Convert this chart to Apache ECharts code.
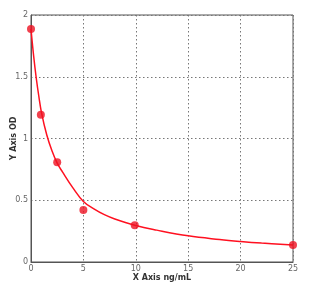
<!DOCTYPE html>
<html><head><meta charset="utf-8">
<script src="https://cdn.jsdelivr.net/npm/echarts@6/dist/echarts.min.js"></script>
<style>html,body{margin:0;padding:0;background:#fff}#c{width:324px;height:302px}</style>
</head><body><div id="c"></div>
<script>
var pointX = [0, 0.94, 2.5, 5, 9.9, 25];
var pointY = [1.887, 1.193, 0.807, 0.421, 0.297, 0.138];
var curveX = [0, 0.25, 0.5, 0.75, 1, 1.5, 2, 2.5, 3, 4, 5, 6, 7, 8, 10, 12, 15, 18, 20, 22, 25];
var curveY = [1.887, 1.67, 1.49, 1.34, 1.21, 1.03, 0.90, 0.80, 0.73, 0.60, 0.49, 0.43, 0.383, 0.348, 0.295, 0.258, 0.212, 0.182, 0.166, 0.153, 0.138];
var xTicks = [0, 5, 10, 15, 20, 25];
var yTicks = [0, 0.5, 1, 1.5, 2];

var chart = echarts.init(document.getElementById('c'));
function pairs(xs, ys){ return xs.map(function(x,i){return [x, ys[i]];}); }
chart.setOption({
  animation: false,
  grid: {left: 31, top: 15, width: 262, height: 247, show: true, borderColor: '#555', borderWidth: 1,
         containLabel: false, outerBoundsMode: 'none'},
  xAxis: {
    type: 'value', min: 0, max: 25, interval: 5,
    name: 'X Axis ng/mL', nameLocation: 'middle', nameGap: 12, nameMoveOverlap: false,
    nameTextStyle: {fontSize: 8, fontWeight: 'bold', color: '#333', fontFamily: 'DejaVu Sans'},
    axisLine: {lineStyle: {color: '#555'}}, axisTick: {show: false},
    axisLabel: {fontSize: 8, color: '#666', margin: 3, fontFamily: 'DejaVu Sans',
      formatter: function(v){ return xTicks.indexOf(v) >= 0 ? String(v) : ''; }},
    splitLine: {show: true, lineStyle: {color: '#777', type: [1.5, 2.5], width: 1}}
  },
  yAxis: {
    type: 'value', min: 0, max: 2, interval: 0.5,
    name: 'Y Axis OD', nameLocation: 'middle', nameGap: 13, nameRotate: 90, nameMoveOverlap: false,
    nameTextStyle: {fontSize: 8, fontWeight: 'bold', color: '#333', fontFamily: 'DejaVu Sans'},
    axisLine: {lineStyle: {color: '#555'}}, axisTick: {show: false},
    axisLabel: {fontSize: 8, color: '#666', margin: 3, fontFamily: 'DejaVu Sans',
      formatter: function(v){ return yTicks.indexOf(v) >= 0 ? String(v) : ''; }},
    splitLine: {show: true, lineStyle: {color: '#777', type: [1.5, 2.5], width: 1}}
  },
  series: [
    {type: 'line', data: pairs(curveX, curveY), smooth: 0.4, showSymbol: false,
     lineStyle: {color: '#ff1020', width: 1.5}, z: 2},
    {type: 'scatter', data: pairs(pointX, pointY), symbolSize: 8,
     itemStyle: {color: '#ee1122'}, z: 3}
  ]
});
</script></body></html>
